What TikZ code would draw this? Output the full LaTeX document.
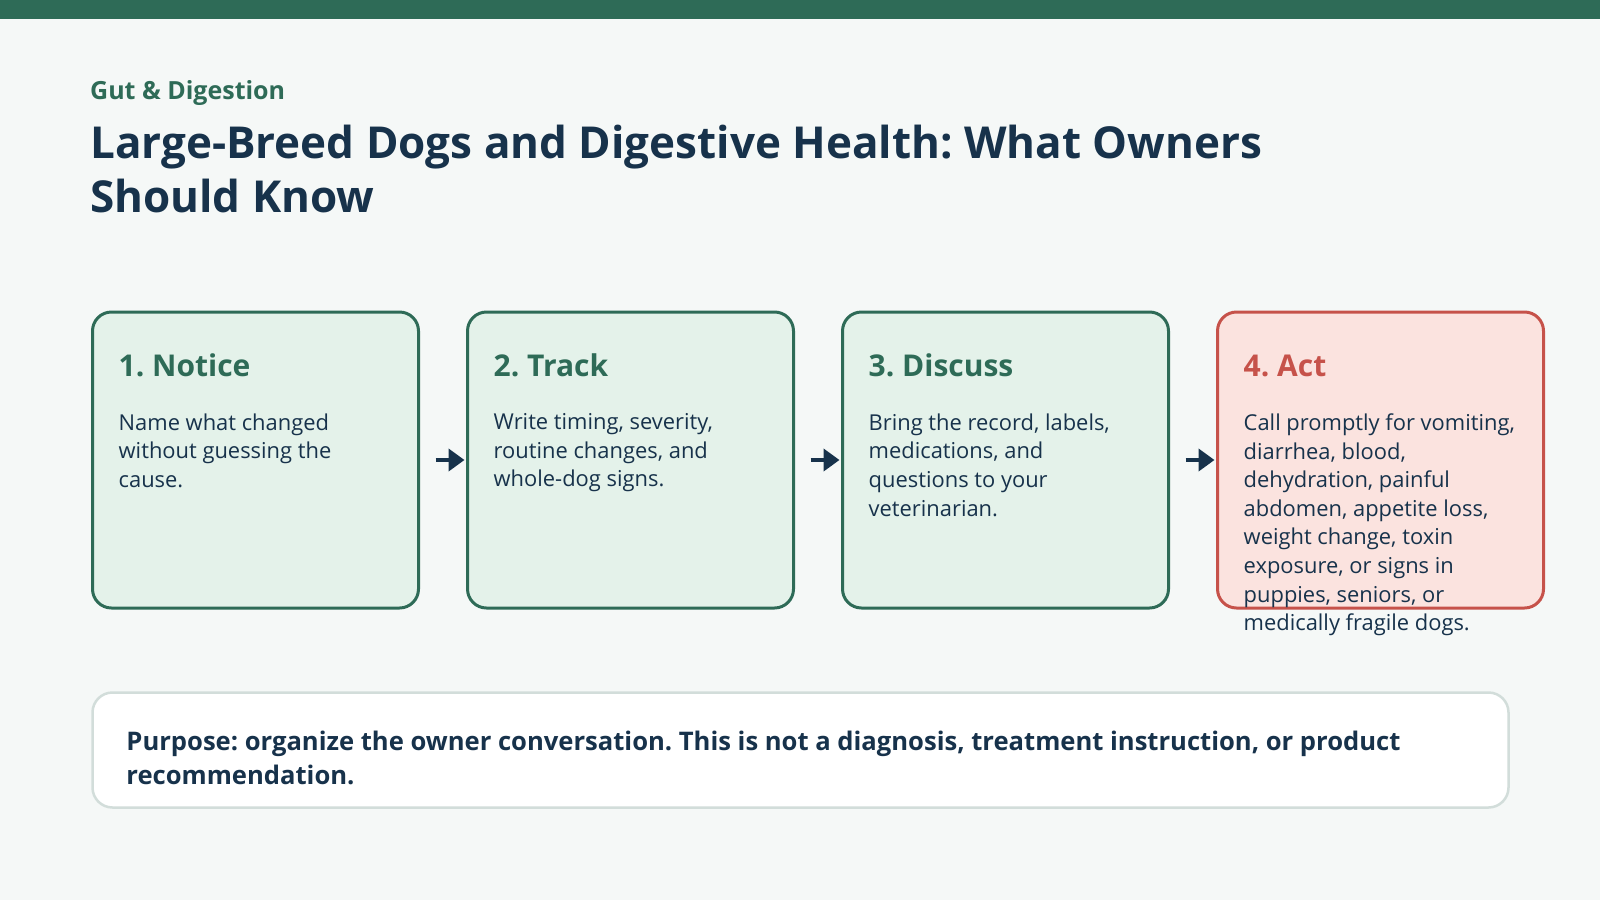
\documentclass[tikz,border=0pt]{standalone}
\usepackage{fontspec}
\setmainfont{Open Sans}
\usetikzlibrary{positioning,arrows.meta}
\definecolor{bg}{HTML}{F5F8F7}
\definecolor{leaf}{HTML}{2E6B57}
\definecolor{leaffill}{HTML}{E4F2EA}
\definecolor{navy}{HTML}{17324B}
\definecolor{brick}{HTML}{C6524A}
\definecolor{brickfill}{HTML}{FBE3DF}
\definecolor{rim}{HTML}{D2DDDA}
\frenchspacing

\begin{document}
\begin{tikzpicture}[x=1pt,y=-1pt,>={Triangle[length=16pt,width=22pt]},node distance=46pt,
	stepbox/.style={draw=leaf,fill=leaffill,line width=3pt,rounded corners=19pt,minimum width=326pt,minimum height=296pt,inner sep=0pt},
	alertbox/.style={stepbox,draw=brick,fill=brickfill},
	head/.style={anchor=base west,inner sep=0pt,text=leaf,font=\fontsize{30}{36}\selectfont\bfseries},
	body/.style={anchor=north west,inner sep=0pt,align=left,text=navy,font=\fontsize{21.9}{28.6}\selectfont},
	flow/.style={->,draw=navy,line width=4.5pt,shorten >=1.5pt},
	note/.style={draw=rim,fill=white,line width=2.5pt,rounded corners=20pt,minimum width=1416pt,minimum height=115pt,inner sep=0pt},
	]

	\useasboundingbox[fill=bg] (0,0) rectangle (1600,900);
	\fill[leaf] (0,0) rectangle (1600,18.5);

	\node[anchor=base west,inner sep=0pt,text=leaf,font=\fontsize{25}{30}\selectfont\bfseries] (tag) at (90,99) {Gut \& Digestion};
	\node[anchor=north west,inner sep=0pt,align=left,text=navy,font=\fontsize{44}{54}\selectfont\bfseries] (title) at (90,124.5)
		{Large-Breed Dogs and Digestive Health: What Owners\\Should Know};

	\node[stepbox] (s1) at (255.5,460) {};
	\node[stepbox, right = of s1] (s2) {};
	\node[stepbox, right = of s2] (s3) {};
	\node[alertbox, right = of s3] (s4) {};

	\node[head] (h1) at ([xshift=27.5pt,yshift=-65.5pt]s1.north west) {1. Notice};
	\node[head] (h2) at ([xshift=27.5pt,yshift=-65.5pt]s2.north west) {2. Track};
	\node[head] (h3) at ([xshift=27.5pt,yshift=-65.5pt]s3.north west) {3. Discuss};
	\node[head,text=brick] (h4) at ([xshift=27.5pt,yshift=-65.5pt]s4.north west) {4. Act};

	\node[body] (t1) at ([xshift=27.5pt,yshift=-103pt]s1.north west)
		{Name what changed\\without guessing the\\cause.};
	\node[body] (t2) at ([xshift=27.5pt,yshift=-103pt]s2.north west)
		{Write timing, severity,\\routine changes, and\\whole-dog signs.};
	\node[body] (t3) at ([xshift=27.5pt,yshift=-103pt]s3.north west)
		{Bring the record, labels,\\medications, and\\questions to your\\veterinarian.};
	\node[body] (t4) at ([xshift=27.5pt,yshift=-103pt]s4.north west)
		{Call promptly for vomiting,\\diarrhea, blood,\\dehydration, painful\\abdomen, appetite loss,\\weight change, toxin\\exposure, or signs in\\puppies, seniors, or\\medically fragile dogs.};

	\draw[flow] ([xshift=15.5pt]s1.east) -- (s2.west);
	\draw[flow] ([xshift=15.5pt]s2.east) -- (s3.west);
	\draw[flow] ([xshift=15.5pt]s3.east) -- (s4.west);

	\node[note] (box) at (800.5,750) {};
	\node[anchor=base west,inner sep=0pt,align=left,text=navy,font=\fontsize{25.6}{33.6}\selectfont\bfseries] (purpose) at ([xshift=35pt,yshift=-93pt]box.north west)
		{Purpose: organize the owner conversation. This is not a diagnosis, treatment instruction, or product\\recommendation.};

\end{tikzpicture}
\end{document}
